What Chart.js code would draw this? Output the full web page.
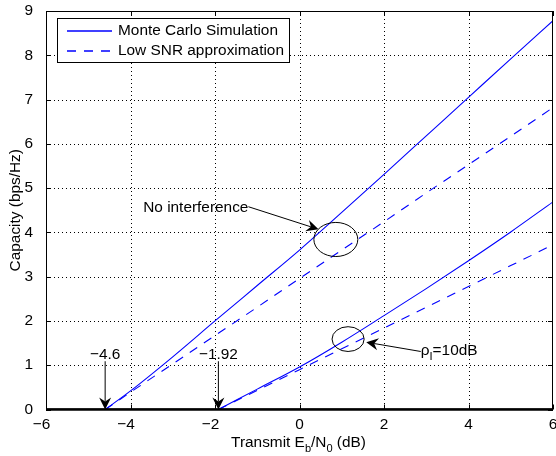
<!DOCTYPE html>
<html>
<head>
<meta charset="utf-8">
<script src="https://cdn.jsdelivr.net/npm/chart.js@4.4.1/dist/chart.umd.min.js"></script>
<style>
  html, body { margin: 0; padding: 0; background: #fff; }
  #wrap { width: 556px; height: 456px; }
</style>
</head>
<body>
<div id="wrap"><canvas id="chart" width="556" height="456"></canvas></div>
<script>
// Eb/N0 in dB, no interference
const ebnoNoInt = [-4.6, -4, -3, -2, -1, 0, 1, 2, 3, 4, 5, 6];
const capMcNoInt = [0, 0.42, 1.19, 2.0, 2.8, 3.6, 4.45, 5.31, 6.18, 7.05, 7.92, 8.78];
const capLowNoInt = [0, 0.39, 1.03, 1.67, 2.31, 2.96, 3.60, 4.24, 4.89, 5.53, 6.17, 6.82];
// with interference (rho_I = 10 dB)
const ebnoInt = [-1.92, -1, 0, 1, 2, 3, 4, 5, 6];
const capMcInt = [0, 0.46, 0.96, 1.52, 2.12, 2.73, 3.36, 4.01, 4.69];
const capLowInt = [0, 0.43, 0.90, 1.37, 1.84, 2.31, 2.78, 3.25, 3.72];

const xTicks = [-6, -4, -2, 0, 2, 4, 6];
const yTicks = [0, 1, 2, 3, 4, 5, 6, 7, 8, 9];

const FONT = "'Liberation Sans', Helvetica, Arial, sans-serif";
const FS = 15.4;
const BLUE = '#0000ff';

const pts = (xs, ys) => xs.map((x, i) => ({ x: x, y: ys[i] }));

function arrow(ctx, x0, y0, x1, y1) {
  const dx = x1 - x0, dy = y1 - y0, len = Math.hypot(dx, dy);
  const ux = dx / len, uy = dy / len, nx = -uy, ny = ux;
  const L = 12, W = 6, N = 8;
  ctx.beginPath();
  ctx.moveTo(x0, y0);
  ctx.lineTo(x1 - ux * N, y1 - uy * N);
  ctx.stroke();
  ctx.beginPath();
  ctx.moveTo(x1, y1);
  ctx.lineTo(x1 - ux * L + nx * W, y1 - uy * L + ny * W);
  ctx.lineTo(x1 - ux * N, y1 - uy * N);
  ctx.lineTo(x1 - ux * L - nx * W, y1 - uy * L - ny * W);
  ctx.closePath();
  ctx.fill();
}

function richText(ctx, parts, x, y, align) {
  let w = 0;
  parts.forEach(p => {
    ctx.font = (p.sub ? FS * 0.72 : FS) + 'px ' + FONT;
    w += ctx.measureText(p.t).width;
  });
  let cx = align === 'center' ? x - w / 2 : x;
  ctx.textAlign = 'left';
  ctx.textBaseline = 'alphabetic';
  parts.forEach(p => {
    ctx.font = (p.sub ? FS * 0.72 : FS) + 'px ' + FONT;
    ctx.fillText(p.t, cx, y + (p.sub ? 5 : 0));
    cx += ctx.measureText(p.t).width;
  });
}

const matlabPlugin = {
  id: 'matlabPlugin',
  beforeDatasetsDraw(chart) {
    // dotted grid
    const { ctx, chartArea: a, scales: { x, y } } = chart;
    ctx.save();
    ctx.strokeStyle = '#000';
    ctx.lineWidth = 1;
    ctx.setLineDash([1, 3]);
    ctx.beginPath();
    xTicks.slice(1, -1).forEach(v => {
      const px = Math.round(x.getPixelForValue(v)) + 0.5;
      ctx.moveTo(px, a.top); ctx.lineTo(px, a.bottom);
    });
    yTicks.slice(1, -1).forEach(v => {
      const py = Math.round(y.getPixelForValue(v)) + 0.5;
      ctx.moveTo(a.left, py); ctx.lineTo(a.right, py);
    });
    ctx.stroke();
    ctx.restore();
  },
  afterDatasetsDraw(chart) {
    const { ctx, chartArea: a, scales: { x, y } } = chart;
    ctx.save();
    ctx.strokeStyle = '#000';
    ctx.fillStyle = '#000';
    ctx.lineWidth = 1;

    // inward ticks on all sides
    ctx.beginPath();
    xTicks.forEach(v => {
      const px = Math.round(x.getPixelForValue(v)) + 0.5;
      ctx.moveTo(px, a.bottom); ctx.lineTo(px, a.bottom - 5);
      ctx.moveTo(px, a.top); ctx.lineTo(px, a.top + 5);
    });
    yTicks.forEach(v => {
      const py = Math.round(y.getPixelForValue(v)) + 0.5;
      ctx.moveTo(a.left, py); ctx.lineTo(a.left + 5, py);
      ctx.moveTo(a.right, py); ctx.lineTo(a.right - 5, py);
    });
    ctx.stroke();

    // box
    ctx.strokeRect(Math.round(a.left) + 0.5, Math.round(a.top) + 0.5,
      Math.round(a.right) - Math.round(a.left) - 1, a.bottom - Math.round(a.top) - 1);
    ctx.lineWidth = 2.5;
    ctx.beginPath();
    ctx.moveTo(a.left, a.bottom);
    ctx.lineTo(a.right, a.bottom);
    ctx.stroke();

    // x tick labels: digits centred on the tick, minus sign hanging left
    ctx.font = FS + 'px ' + FONT;
    ctx.textAlign = 'right';
    ctx.textBaseline = 'alphabetic';
    xTicks.forEach(v => {
      const digits = String(Math.abs(v));
      const dw = ctx.measureText(digits).width;
      const label = v < 0 ? '\u2212' + digits : digits;
      ctx.fillText(label, x.getPixelForValue(v) + dw / 2, a.bottom + 19);
    });

    // annotations (data coordinates)
    const X = v => x.getPixelForValue(v), Y = v => y.getPixelForValue(v);
    ctx.lineWidth = 1;
    ctx.beginPath();
    ctx.ellipse(X(0.86), Y(3.84), X(0.86) - X(0.34), Y(3.84) - Y(4.225), 0, 0, Math.PI * 2);
    ctx.stroke();
    ctx.beginPath();
    ctx.ellipse(X(1.15), Y(1.59), X(1.15) - X(0.77), Y(1.59) - Y(1.87), 0, 0, Math.PI * 2);
    ctx.stroke();
    arrow(ctx, X(-1.21), Y(4.58), X(0.45), Y(4.07));
    arrow(ctx, X(2.87), Y(1.31), X(1.58), Y(1.52));
    arrow(ctx, X(-4.6), Y(1.09), X(-4.6), Y(0));
    arrow(ctx, X(-1.92), Y(1.09), X(-1.92), Y(0));

    richText(ctx, [{ t: 'No interference' }], X(-3.70), Y(4.47), 'left');
    richText(ctx, [{ t: '\u03c1' }, { t: 'I', sub: true }, { t: '=10dB' }], X(2.87), Y(1.22), 'left');
    richText(ctx, [{ t: '\u22124.6' }], X(-4.6), Y(1.15), 'center');
    richText(ctx, [{ t: '\u22121.92' }], X(-1.92), Y(1.15), 'center');

    // x axis title with subscripts
    richText(ctx, [{ t: 'Transmit E' }, { t: 'b', sub: true }, { t: '/N' }, { t: '0', sub: true }, { t: ' (dB)' }],
      (a.left + a.right) / 2 - 1, a.bottom + 37.5, 'center');

    // legend
    const lx = a.left + 11, ly = a.top + 7, lw = 232, lh = 44;
    ctx.fillStyle = '#fff';
    ctx.fillRect(lx, ly, lw, lh);
    ctx.strokeStyle = '#000';
    ctx.lineWidth = 1;
    ctx.strokeRect(lx + 0.5, ly + 0.5, lw, lh);
    chart.data.datasets.slice(0, 2).forEach((ds, i) => {
      const yy = ly + 13 + i * 20;
      ctx.strokeStyle = ds.borderColor;
      ctx.lineWidth = 1.3;
      ctx.setLineDash(ds.borderDash || []);
      ctx.beginPath();
      ctx.moveTo(lx + 10, yy);
      ctx.lineTo(lx + 55, yy);
      ctx.stroke();
      ctx.setLineDash([]);
      ctx.fillStyle = '#000';
      ctx.font = FS + 'px ' + FONT;
      ctx.textAlign = 'left';
      ctx.textBaseline = 'middle';
      ctx.fillText(ds.label, lx + 61, yy);
    });
    ctx.restore();
  }
};

new Chart(document.getElementById('chart').getContext('2d'), {
  type: 'line',
  data: {
    datasets: [
      {
        label: 'Monte Carlo Simulation',
        data: pts(ebnoNoInt, capMcNoInt),
        borderColor: BLUE,
        borderWidth: 1.1,
        cubicInterpolationMode: 'monotone'
      },
      {
        label: 'Low SNR approximation',
        data: pts(ebnoNoInt, capLowNoInt),
        borderColor: BLUE,
        borderWidth: 1.1,
        borderDash: [9, 8]
      },
      {
        label: 'Monte Carlo Simulation (interference)',
        data: pts(ebnoInt, capMcInt),
        borderColor: BLUE,
        borderWidth: 1.1,
        cubicInterpolationMode: 'monotone'
      },
      {
        label: 'Low SNR approximation (interference)',
        data: pts(ebnoInt, capLowInt),
        borderColor: BLUE,
        borderWidth: 1.1,
        borderDash: [9, 8]
      }
    ]
  },
  options: {
    responsive: false,
    animation: false,
    events: [],
    elements: { point: { radius: 0 } },
    layout: { padding: { left: 0, top: 11, right: 3, bottom: 0 } },
    plugins: { legend: { display: false }, tooltip: { enabled: false } },
    scales: {
      x: {
        type: 'linear',
        min: -6,
        max: 6,
        afterBuildTicks: s => { s.ticks = xTicks.map(v => ({ value: v })); },
        afterFit: s => { s.height = 46.5; s.paddingLeft = 0; s.paddingRight = 0; },
        ticks: { display: false },
        grid: { display: false },
        border: { display: false }
      },
      y: {
        type: 'linear',
        min: 0,
        max: 9,
        afterBuildTicks: s => { s.ticks = yTicks.map(v => ({ value: v })); },
        afterFit: s => { s.width = 46; s.paddingTop = 0; s.paddingBottom = 0; },
        ticks: {
          color: '#000',
          padding: 5,
          font: { family: FONT, size: FS }
        },
        grid: { display: false },
        border: { display: false },
        title: {
          display: true,
          text: 'Capacity (bps/Hz)',
          color: '#000',
          padding: { top: 7, bottom: 0 },
          font: { family: FONT, size: FS }
        }
      }
    }
  },
  plugins: [matlabPlugin]
});
</script>
</body>
</html>
